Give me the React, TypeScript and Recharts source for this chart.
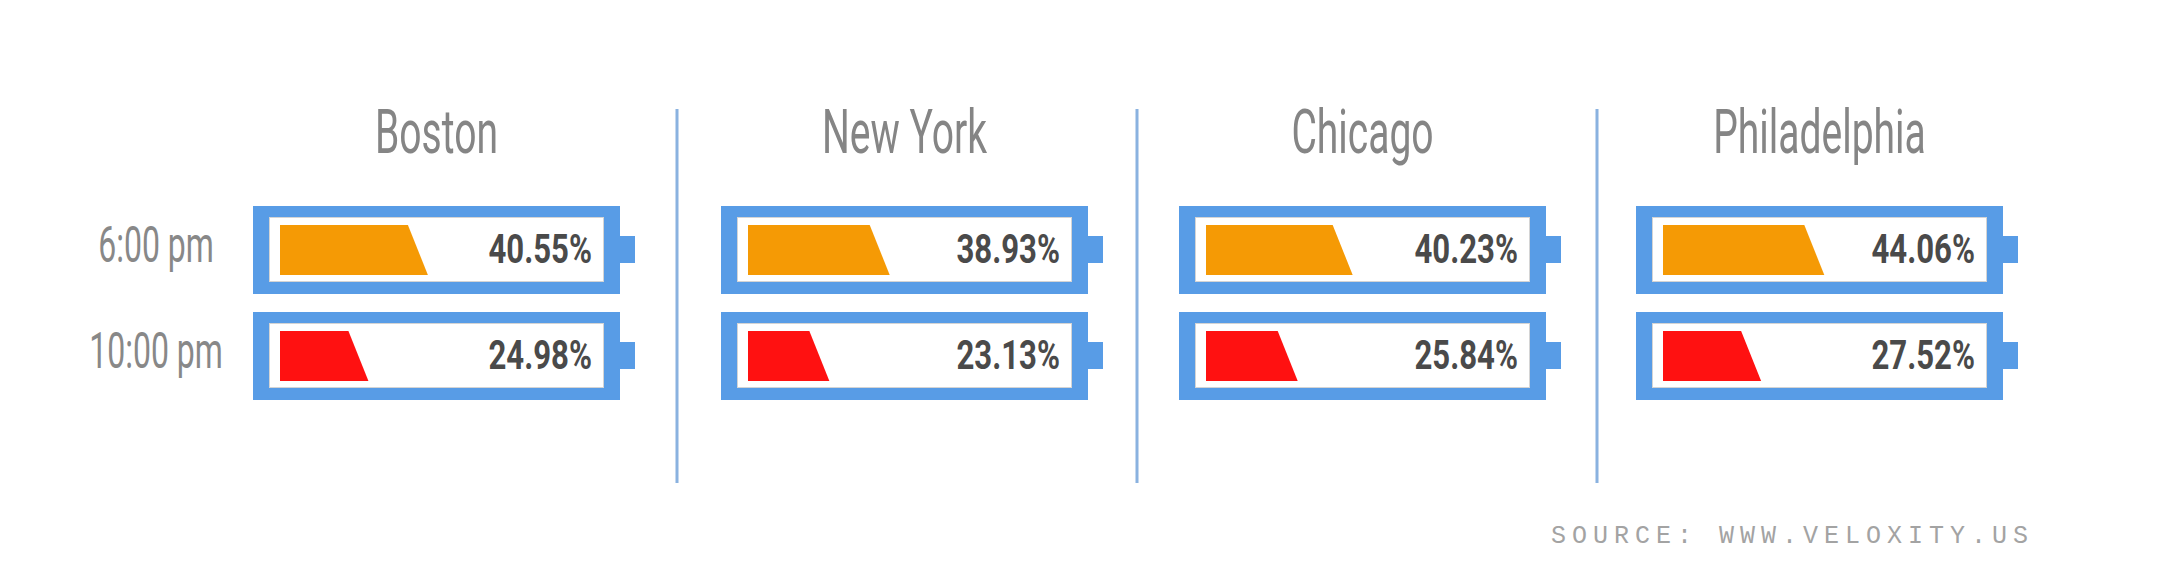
import { Bar, BarChart, Cell, XAxis, YAxis } from "recharts";

const cities = ["Boston", "New York", "Chicago", "Philadelphia"];
const times = ["6:00 pm", "10:00 pm"];
const evening = [40.55, 38.93, 40.23, 44.06];
const night = [24.98, 23.13, 25.84, 27.52];
const fillColors = ["#F59A05", "#FF1111"];
const sourceText = "SOURCE: WWW.VELOXITY.US";

// layout
const panelLeft = [253, 721, 1179, 1636];
const dividerX = [677, 1137, 1597];
const AXIS_W = 193;
const PLOT_W = 382;
const NUB = 15;
const BLUE = "#589CE6";

const BatteryFrame = (props: any) => {
  const { x, y, width, height, payload } = props;
  const body = width - NUB;
  const value = payload?.value ?? 0;
  return (
    <g>
      <rect x={x} y={y} width={body} height={height} fill={BLUE} />
      <rect x={x + body} y={y + 30} width={NUB} height={27} fill={BLUE} />
      <rect
        x={x + 16.5}
        y={y + 11.5}
        width={body - 33}
        height={height - 24}
        fill="#fff"
        stroke="#d4d4d4"
      />
      <text
        transform={`translate(${x + body - 28},${y + 57}) scale(0.76,1)`}
        textAnchor="end"
        fontFamily="Roboto"
        fontWeight={700}
        fontSize={41}
        fill="#4a4a4a"
      >
        {value.toFixed(2)}%
      </text>
    </g>
  );
};

const Fill = (props: any) => {
  const { x, y, width, fill } = props;
  const left = x + 27;
  const right = x + width;
  const top = y + 19;
  const bottom = y + 69;
  return <path d={`M${left},${top}H${right}L${right + 20},${bottom}H${left}Z`} fill={fill} />;
};

const TimeTick = (props: any) => {
  const { x, y, payload } = props;
  return (
    <text
      transform={`translate(${x - 97},${y + 12}) scale(0.64,1)`}
      textAnchor="middle"
      fontFamily="Roboto"
      fontSize={50}
      fill="#888"
    >
      {payload.value}
    </text>
  );
};

const CityBattery = ({ index }: { index: number }) => {
  const first = index === 0;
  const rows = times.map((time, i) => ({
    time,
    value: i === 0 ? evening[index] : night[index],
  }));
  return (
    <div style={{ position: "absolute", left: first ? panelLeft[0] - AXIS_W : panelLeft[index], top: 197 }}>
      <BarChart
        layout="vertical"
        width={first ? PLOT_W + AXIS_W : PLOT_W}
        height={212}
        data={rows}
        margin={{ top: 0, right: 0, bottom: 0, left: 0 }}
        barCategoryGap={9}
      >
        <XAxis type="number" domain={[0, 100]} hide />
        <YAxis
          type="category"
          dataKey="time"
          hide={!first}
          width={AXIS_W}
          axisLine={false}
          tickLine={false}
          tickSize={0}
          tickMargin={0}
          tick={<TimeTick />}
        />
        <Bar
          dataKey="value"
          barSize={88}
          isAnimationActive={false}
          background={<BatteryFrame />}
          shape={<Fill />}
        >
          {rows.map((r, i) => (
            <Cell key={r.time} fill={fillColors[i]} />
          ))}
        </Bar>
      </BarChart>
    </div>
  );
};

export default function App() {
  return (
    <div style={{ position: "absolute", left: 0, top: 0, width: 2166, height: 588, background: "#fff" }}>
      <svg width={2166} height={588} style={{ position: "absolute", left: 0, top: 0 }}>
        {cities.map((c, i) => (
          <text
            key={c}
            transform={`translate(${panelLeft[i] + (PLOT_W - NUB) / 2},153) scale(0.64,1)`}
            textAnchor="middle"
            fontFamily="Roboto"
            fontSize={61}
            fill="#858585"
          >
            {c}
          </text>
        ))}
        {dividerX.map((x) => (
          <rect key={x} x={x - 1.5} y={109} width={3} height={374} fill="#8AB2E0" />
        ))}
        <text
          x={2034}
          y={543}
          textAnchor="end"
          fontFamily="Liberation Mono"
          fontSize={25}
          letterSpacing={6}
          fill="#a3a3a3"
        >
          {sourceText}
        </text>
      </svg>
      {cities.map((c, i) => (
        <CityBattery key={c} index={i} />
      ))}
    </div>
  );
}
